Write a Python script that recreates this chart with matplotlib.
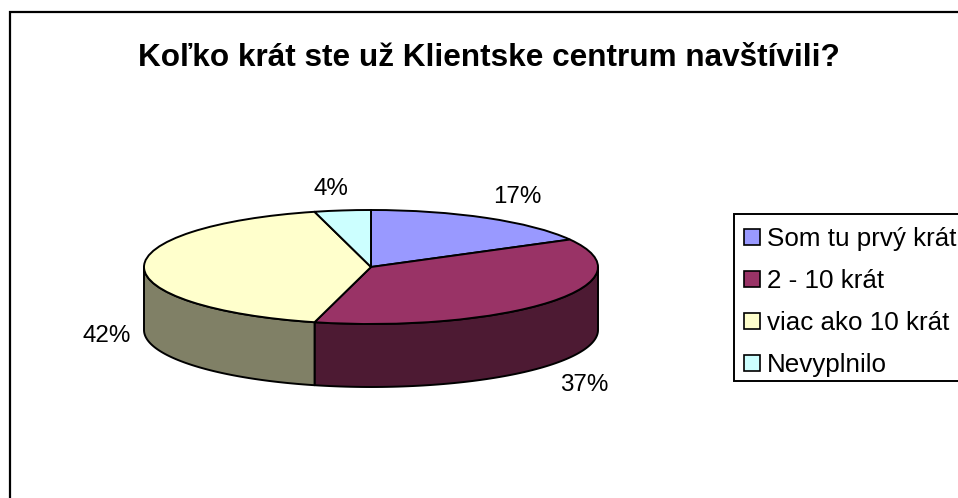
import numpy as np
import matplotlib
matplotlib.use("Agg")
import matplotlib.pyplot as plt
from matplotlib.patches import Patch, Rectangle

plt.rcParams["font.family"] = ["Liberation Sans", "DejaVu Sans"]

title = "Koľko krát ste už Klientske centrum navštívili?"
categories = ["Som tu prvý krát", "2 - 10 krát", "viac ako 10 krát", "Nevyplnilo"]
values = [17, 37, 42, 4]
top_colors = ["#9999FF", "#993366", "#FFFFCC", "#CCFFFF"]
side_colors = ["#4D4D80", "#4D1A33", "#808066", "#668080"]
pct_labels = ["17%", "37%", "42%", "4%"]

W, H = 958, 498
# pie ellipse box in pixels
left, right, top, bottom = 144, 598, 210, 324
depth_px = 63


def fx(px):
    return px / W


def fy(py):
    return 1 - py / H


fig = plt.figure(figsize=(W / 100, H / 100), dpi=100, facecolor="white")

# outer chart frame, runs off the right and bottom of the picture
fig.add_artist(Rectangle((fx(9.5), fy(H + 20)), fx(W + 20), fy(12) - fy(H + 20),
                         transform=fig.transFigure, fill=False,
                         edgecolor="black", linewidth=1.6))

ax = fig.add_axes([fx(left), fy(bottom), fx(right - left), fy(top) - fy(bottom)])

# walls first, only the front half of the disc shows one
depth = depth_px / ((bottom - top) / 2)
edges = np.cumsum([0] + values) / sum(values) * 2 * np.pi
for i in range(len(values)):
    a = max(edges[i], np.pi / 2)
    b = min(edges[i + 1], 3 * np.pi / 2)
    if a >= b:
        continue
    t = np.linspace(a, b, 80)
    xs = np.concatenate([np.sin(t), np.sin(t[::-1])])
    ys = np.concatenate([np.cos(t), np.cos(t[::-1]) - depth])
    ax.fill(xs, ys, facecolor=side_colors[i], edgecolor="black",
            linewidth=1.4, clip_on=False, zorder=1, joinstyle="round")

wedges, _ = ax.pie(values, colors=top_colors, startangle=90, counterclock=False,
                   radius=1, wedgeprops={"edgecolor": "black", "linewidth": 1.4,
                                         "clip_on": False, "zorder": 2})
ax.set_aspect("auto")
ax.set_xlim(-1, 1)
ax.set_ylim(-1, 1)
ax.axis("off")

fig.text(fx(488.5), fy(58), title, ha="center", va="center",
         fontsize=22.7, fontweight="bold", color="black")

# data labels
label_pos = [(517, 197), (584, 385), (107, 336), (331, 189)]
for s, (px, py) in zip(pct_labels, label_pos):
    fig.text(fx(px), fy(py), s, ha="center", va="center", fontsize=17.4, color="black")

# legend frame drawn apart, the text sits low in the box in the reference
fig.add_artist(Rectangle((fx(734), fy(381)), fx(W + 20 - 734), fy(213.5) - fy(381),
                         transform=fig.transFigure, facecolor="white",
                         edgecolor="black", linewidth=1.4))
handles = [Patch(facecolor=c, edgecolor="black", linewidth=1.2) for c in top_colors]
leg = fig.legend(handles, categories, loc="upper left",
                 bbox_to_anchor=(fx(734), fy(217)), bbox_transform=fig.transFigure,
                 borderaxespad=0, fontsize=18.7, frameon=False,
                 handlelength=0.6, handleheight=0.6,
                 handletextpad=0.28, labelspacing=0.69, borderpad=0.4)

plt.savefig("out.png", dpi=100, facecolor=fig.get_facecolor())
